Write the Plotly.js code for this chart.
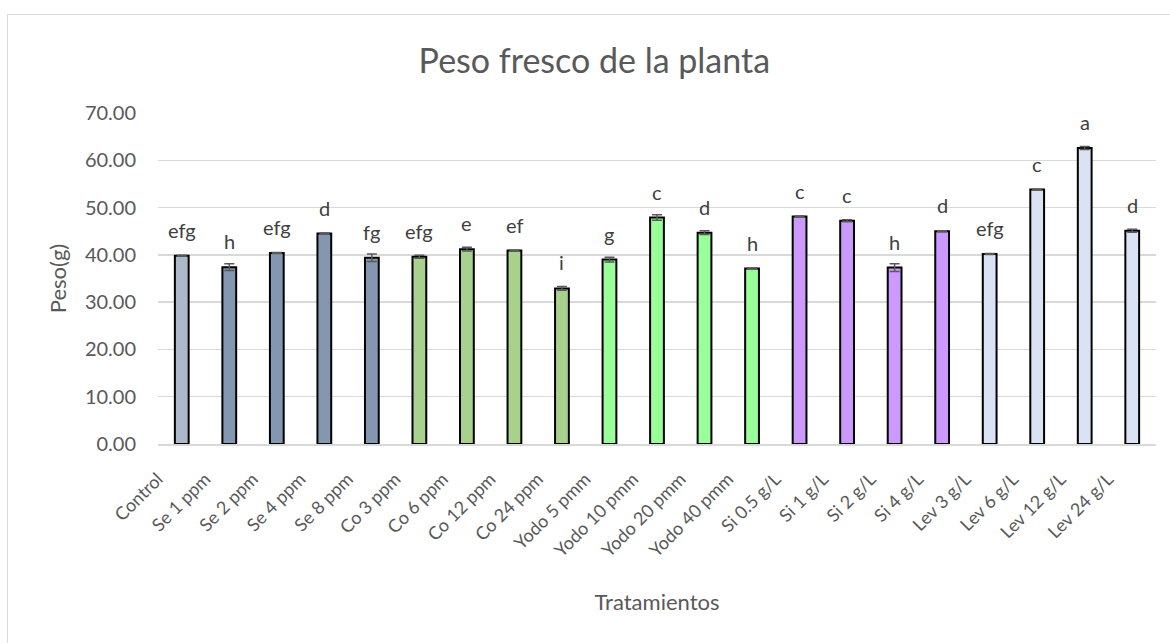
<!DOCTYPE html>
<html>
<head>
<meta charset="utf-8">
<script src="https://cdn.plot.ly/plotly-3.0.1.min.js"></script>
<style>
  html, body { margin: 0; padding: 0; background: #fff; overflow: hidden; }
  #chart { width: 1170px; height: 643px; position: absolute; left: 0; top: 0; }
  #frame { position: absolute; left: 7px; top: 14px; width: 1200px; height: 700px;
           border: 1px solid #D9D9D9; pointer-events: none; }
</style>
</head>
<body>
<div id="chart"></div>
<div id="frame"></div>
<script>
const categories = ["Control", "Se 1 ppm", "Se 2 ppm", "Se 4 ppm", "Se 8 ppm",
  "Co 3 ppm", "Co 6 ppm", "Co 12 ppm", "Co 24 ppm",
  "Yodo 5 pmm", "Yodo 10 pmm", "Yodo 20 pmm", "Yodo 40 pmm",
  "Si 0.5 g/L", "Si 1 g/L", "Si 2 g/L", "Si 4 g/L",
  "Lev 3 g/L", "Lev 6 g/L", "Lev 12 g/L", "Lev 24 g/L"];
const pesoValues = [39.8, 37.4, 40.4, 44.5, 39.4,
  39.6, 41.2, 40.9, 32.9,
  39.0, 47.9, 44.7, 37.1,
  48.1, 47.2, 37.3, 45.0,
  40.2, 53.8, 62.6, 45.1];
const pesoErrors = [0.1, 0.7, 0.1, 0.1, 0.8,
  0.3, 0.4, 0.1, 0.4,
  0.5, 0.6, 0.4, 0.1,
  0.1, 0.2, 0.8, 0.1,
  0.1, 0.1, 0.3, 0.3];
const letters = ["efg", "h", "efg", "d", "fg",
  "efg", "e", "ef", "i",
  "g", "c", "d", "h",
  "c", "c", "h", "d",
  "efg", "c", "a", "d"];
const groupColors = {
  Control: "#ADB9CA", Se: "#8497B0", Co: "#A9D18E",
  Yodo: "#99FF99", Si: "#CC99FF", Lev: "#DAE3F3"
};
const barColors = categories.map(c => groupColors[c.split(" ")[0]]);
const yTicks = [0, 10, 20, 30, 40, 50, 60, 70];

const FONT = "Lato, 'Open Sans', sans-serif";
const GREY = "#595959";

const trace = {
  type: "bar",
  x: categories,
  y: pesoValues,
  width: 0.29,
  marker: { color: barColors, line: { color: "#000000", width: 2 } },
  error_y: { type: "data", array: pesoErrors, visible: true,
             color: GREY, thickness: 1.5, width: 5 },
  hoverinfo: "x+y"
};

const annotations = categories.map((c, i) => ({
  x: c, y: pesoValues[i], xref: "x", yref: "y",
  text: letters[i], showarrow: false,
  yanchor: "middle", yshift: 26,
  font: { family: FONT, size: 20, color: "#404040" }
}));

const layout = {
  width: 1170, height: 643,
  margin: { l: 158, r: 14, t: 113, b: 199 },
  paper_bgcolor: "rgba(0,0,0,0)",
  plot_bgcolor: "#ffffff",
  showlegend: false,
  bargap: 0,
  title: { text: "Peso fresco de la planta", x: 0.508, xref: "container",
           xanchor: "center", y: 0.905, yanchor: "middle",
           font: { family: FONT, size: 34, color: GREY } },
  xaxis: {
    type: "category",
    tickangle: -45,
    tickfont: { family: FONT, size: 18, color: GREY },
    ticklabelstandoff: 16,
    ticklabelshift: -24,
    showgrid: false, showline: true, linecolor: "#D9D9D9", linewidth: 1.5,
    ticks: "", zeroline: false,
    title: { text: "Tratamientos", standoff: 35,
             font: { family: FONT, size: 22, color: GREY } }
  },
  yaxis: {
    range: [0, 70],
    tickvals: yTicks,
    ticktext: yTicks.map(v => v.toFixed(2)),
    tickfont: { family: FONT, size: 20, color: GREY },
    showgrid: true, gridcolor: "#D9D9D9", gridwidth: 1.5,
    zeroline: false, showline: false, ticks: "",
    ticklabelstandoff: 21,
    title: { text: "Peso(g)", standoff: 12,
             font: { family: FONT, size: 22, color: GREY } }
  },
  annotations: annotations
};

Plotly.newPlot("chart", [trace], layout, { displayModeBar: false, staticPlot: true });
</script>
</body>
</html>
